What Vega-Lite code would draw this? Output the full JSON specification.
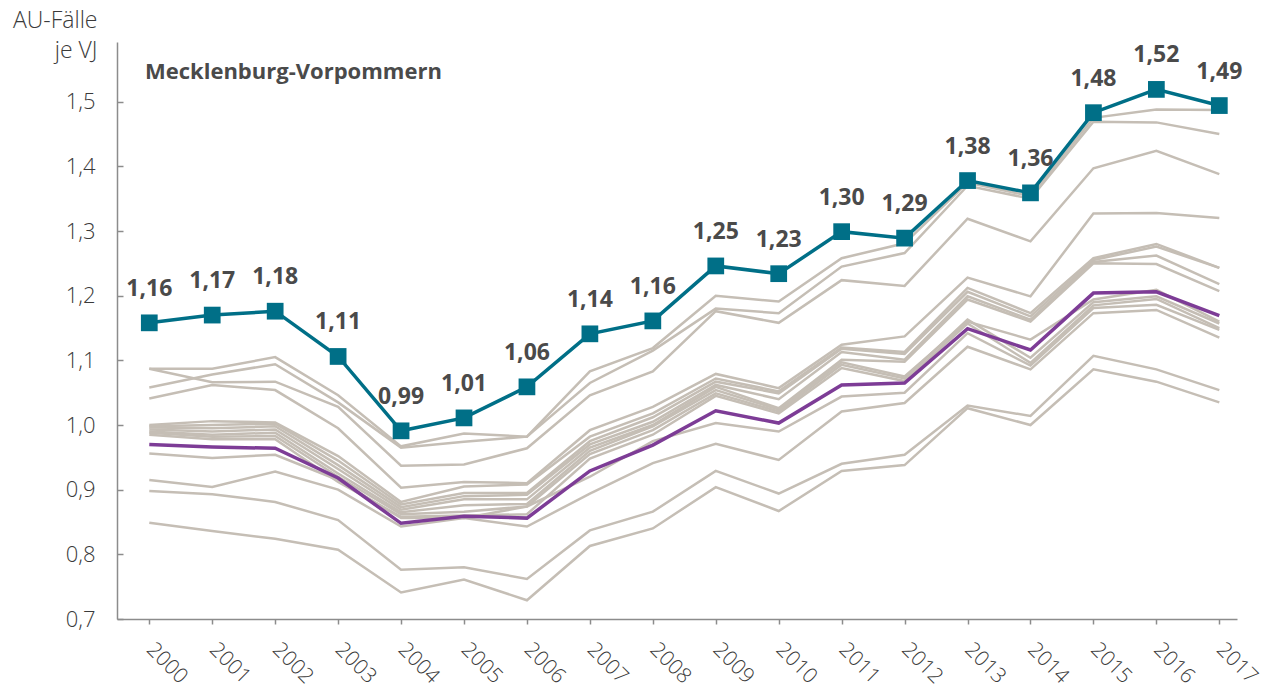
{
"$schema": "https://vega.github.io/schema/vega-lite/v6.json",
"width": 1120, "height": 577,
"autosize": {"type": "none"},
"padding": {"left": 117, "top": 42, "right": 34, "bottom": 75},
"config": {"view": {"stroke": null}, "font": "Open Sans",
  "locale": {"number": {"decimal": ",", "thousands": ".", "grouping": [3], "currency": ["", " €"]}}},
"title": {"text": "Mecklenburg-Vorpommern", "anchor": "start", "frame": "group", "fontSize": 22, "fontWeight": "bold", "color": "#4a4a4a", "font": "Open Sans", "offset": 0, "dx": 28, "dy": 92, "baseline": "alphabetic"},
"datasets": {"d": [
{"region":"Mecklenburg-Vorpommern","year":2000,"value":1.158},{"region":"Mecklenburg-Vorpommern","year":2001,"value":1.170},{"region":"Mecklenburg-Vorpommern","year":2002,"value":1.176},{"region":"Mecklenburg-Vorpommern","year":2003,"value":1.106},{"region":"Mecklenburg-Vorpommern","year":2004,"value":0.991},{"region":"Mecklenburg-Vorpommern","year":2005,"value":1.011},{"region":"Mecklenburg-Vorpommern","year":2006,"value":1.059},{"region":"Mecklenburg-Vorpommern","year":2007,"value":1.141},{"region":"Mecklenburg-Vorpommern","year":2008,"value":1.161},{"region":"Mecklenburg-Vorpommern","year":2009,"value":1.246},{"region":"Mecklenburg-Vorpommern","year":2010,"value":1.234},{"region":"Mecklenburg-Vorpommern","year":2011,"value":1.299},{"region":"Mecklenburg-Vorpommern","year":2012,"value":1.289},{"region":"Mecklenburg-Vorpommern","year":2013,"value":1.378},{"region":"Mecklenburg-Vorpommern","year":2014,"value":1.359},{"region":"Mecklenburg-Vorpommern","year":2015,"value":1.483},{"region":"Mecklenburg-Vorpommern","year":2016,"value":1.519},{"region":"Mecklenburg-Vorpommern","year":2017,"value":1.494},
{"region":"Bund","year":2000,"value":0.970},{"region":"Bund","year":2001,"value":0.966},{"region":"Bund","year":2002,"value":0.964},{"region":"Bund","year":2003,"value":0.918},{"region":"Bund","year":2004,"value":0.848},{"region":"Bund","year":2005,"value":0.859},{"region":"Bund","year":2006,"value":0.856},{"region":"Bund","year":2007,"value":0.929},{"region":"Bund","year":2008,"value":0.969},{"region":"Bund","year":2009,"value":1.022},{"region":"Bund","year":2010,"value":1.003},{"region":"Bund","year":2011,"value":1.062},{"region":"Bund","year":2012,"value":1.065},{"region":"Bund","year":2013,"value":1.149},{"region":"Bund","year":2014,"value":1.116},{"region":"Bund","year":2015,"value":1.204},{"region":"Bund","year":2016,"value":1.206},{"region":"Bund","year":2017,"value":1.169},
{"region":"Brandenburg","year":2000,"value":1.087},{"region":"Brandenburg","year":2001,"value":1.087},{"region":"Brandenburg","year":2002,"value":1.105},{"region":"Brandenburg","year":2003,"value":1.046},{"region":"Brandenburg","year":2004,"value":0.967},{"region":"Brandenburg","year":2005,"value":0.987},{"region":"Brandenburg","year":2006,"value":0.982},{"region":"Brandenburg","year":2007,"value":1.083},{"region":"Brandenburg","year":2008,"value":1.119},{"region":"Brandenburg","year":2009,"value":1.200},{"region":"Brandenburg","year":2010,"value":1.191},{"region":"Brandenburg","year":2011,"value":1.258},{"region":"Brandenburg","year":2012,"value":1.281},{"region":"Brandenburg","year":2013,"value":1.375},{"region":"Brandenburg","year":2014,"value":1.354},{"region":"Brandenburg","year":2015,"value":1.475},{"region":"Brandenburg","year":2016,"value":1.488},{"region":"Brandenburg","year":2017,"value":1.487},
{"region":"Sachsen-Anhalt","year":2000,"value":1.058},{"region":"Sachsen-Anhalt","year":2001,"value":1.078},{"region":"Sachsen-Anhalt","year":2002,"value":1.094},{"region":"Sachsen-Anhalt","year":2003,"value":1.035},{"region":"Sachsen-Anhalt","year":2004,"value":0.965},{"region":"Sachsen-Anhalt","year":2005,"value":0.974},{"region":"Sachsen-Anhalt","year":2006,"value":0.982},{"region":"Sachsen-Anhalt","year":2007,"value":1.065},{"region":"Sachsen-Anhalt","year":2008,"value":1.115},{"region":"Sachsen-Anhalt","year":2009,"value":1.180},{"region":"Sachsen-Anhalt","year":2010,"value":1.173},{"region":"Sachsen-Anhalt","year":2011,"value":1.245},{"region":"Sachsen-Anhalt","year":2012,"value":1.266},{"region":"Sachsen-Anhalt","year":2013,"value":1.370},{"region":"Sachsen-Anhalt","year":2014,"value":1.350},{"region":"Sachsen-Anhalt","year":2015,"value":1.469},{"region":"Sachsen-Anhalt","year":2016,"value":1.468},{"region":"Sachsen-Anhalt","year":2017,"value":1.450},
{"region":"Thüringen","year":2000,"value":1.087},{"region":"Thüringen","year":2001,"value":1.066},{"region":"Thüringen","year":2002,"value":1.067},{"region":"Thüringen","year":2003,"value":1.028},{"region":"Thüringen","year":2004,"value":0.937},{"region":"Thüringen","year":2005,"value":0.939},{"region":"Thüringen","year":2006,"value":0.964},{"region":"Thüringen","year":2007,"value":1.046},{"region":"Thüringen","year":2008,"value":1.083},{"region":"Thüringen","year":2009,"value":1.176},{"region":"Thüringen","year":2010,"value":1.158},{"region":"Thüringen","year":2011,"value":1.224},{"region":"Thüringen","year":2012,"value":1.215},{"region":"Thüringen","year":2013,"value":1.319},{"region":"Thüringen","year":2014,"value":1.284},{"region":"Thüringen","year":2015,"value":1.397},{"region":"Thüringen","year":2016,"value":1.424},{"region":"Thüringen","year":2017,"value":1.388},
{"region":"Sachsen","year":2000,"value":1.041},{"region":"Sachsen","year":2001,"value":1.062},{"region":"Sachsen","year":2002,"value":1.054},{"region":"Sachsen","year":2003,"value":0.995},{"region":"Sachsen","year":2004,"value":0.903},{"region":"Sachsen","year":2005,"value":0.912},{"region":"Sachsen","year":2006,"value":0.910},{"region":"Sachsen","year":2007,"value":0.992},{"region":"Sachsen","year":2008,"value":1.028},{"region":"Sachsen","year":2009,"value":1.079},{"region":"Sachsen","year":2010,"value":1.057},{"region":"Sachsen","year":2011,"value":1.124},{"region":"Sachsen","year":2012,"value":1.137},{"region":"Sachsen","year":2013,"value":1.228},{"region":"Sachsen","year":2014,"value":1.199},{"region":"Sachsen","year":2015,"value":1.327},{"region":"Sachsen","year":2016,"value":1.328},{"region":"Sachsen","year":2017,"value":1.320},
{"region":"Berlin","year":2000,"value":1.000},{"region":"Berlin","year":2001,"value":1.006},{"region":"Berlin","year":2002,"value":1.004},{"region":"Berlin","year":2003,"value":0.952},{"region":"Berlin","year":2004,"value":0.881},{"region":"Berlin","year":2005,"value":0.905},{"region":"Berlin","year":2006,"value":0.908},{"region":"Berlin","year":2007,"value":0.982},{"region":"Berlin","year":2008,"value":1.018},{"region":"Berlin","year":2009,"value":1.072},{"region":"Berlin","year":2010,"value":1.052},{"region":"Berlin","year":2011,"value":1.120},{"region":"Berlin","year":2012,"value":1.113},{"region":"Berlin","year":2013,"value":1.212},{"region":"Berlin","year":2014,"value":1.173},{"region":"Berlin","year":2015,"value":1.258},{"region":"Berlin","year":2016,"value":1.280},{"region":"Berlin","year":2017,"value":1.243},
{"region":"Saarland","year":2000,"value":0.998},{"region":"Saarland","year":2001,"value":1.000},{"region":"Saarland","year":2002,"value":1.002},{"region":"Saarland","year":2003,"value":0.945},{"region":"Saarland","year":2004,"value":0.877},{"region":"Saarland","year":2005,"value":0.895},{"region":"Saarland","year":2006,"value":0.895},{"region":"Saarland","year":2007,"value":0.975},{"region":"Saarland","year":2008,"value":1.012},{"region":"Saarland","year":2009,"value":1.067},{"region":"Saarland","year":2010,"value":1.049},{"region":"Saarland","year":2011,"value":1.118},{"region":"Saarland","year":2012,"value":1.110},{"region":"Saarland","year":2013,"value":1.206},{"region":"Saarland","year":2014,"value":1.168},{"region":"Saarland","year":2015,"value":1.255},{"region":"Saarland","year":2016,"value":1.276},{"region":"Saarland","year":2017,"value":1.243},
{"region":"Niedersachsen","year":2000,"value":0.996},{"region":"Niedersachsen","year":2001,"value":0.995},{"region":"Niedersachsen","year":2002,"value":0.998},{"region":"Niedersachsen","year":2003,"value":0.938},{"region":"Niedersachsen","year":2004,"value":0.873},{"region":"Niedersachsen","year":2005,"value":0.890},{"region":"Niedersachsen","year":2006,"value":0.892},{"region":"Niedersachsen","year":2007,"value":0.970},{"region":"Niedersachsen","year":2008,"value":1.005},{"region":"Niedersachsen","year":2009,"value":1.062},{"region":"Niedersachsen","year":2010,"value":1.040},{"region":"Niedersachsen","year":2011,"value":1.113},{"region":"Niedersachsen","year":2012,"value":1.101},{"region":"Niedersachsen","year":2013,"value":1.199},{"region":"Niedersachsen","year":2014,"value":1.163},{"region":"Niedersachsen","year":2015,"value":1.252},{"region":"Niedersachsen","year":2016,"value":1.262},{"region":"Niedersachsen","year":2017,"value":1.218},
{"region":"Schleswig-Holstein","year":2000,"value":0.993},{"region":"Schleswig-Holstein","year":2001,"value":0.990},{"region":"Schleswig-Holstein","year":2002,"value":0.993},{"region":"Schleswig-Holstein","year":2003,"value":0.932},{"region":"Schleswig-Holstein","year":2004,"value":0.869},{"region":"Schleswig-Holstein","year":2005,"value":0.885},{"region":"Schleswig-Holstein","year":2006,"value":0.885},{"region":"Schleswig-Holstein","year":2007,"value":0.965},{"region":"Schleswig-Holstein","year":2008,"value":1.000},{"region":"Schleswig-Holstein","year":2009,"value":1.059},{"region":"Schleswig-Holstein","year":2010,"value":1.026},{"region":"Schleswig-Holstein","year":2011,"value":1.101},{"region":"Schleswig-Holstein","year":2012,"value":1.098},{"region":"Schleswig-Holstein","year":2013,"value":1.194},{"region":"Schleswig-Holstein","year":2014,"value":1.160},{"region":"Schleswig-Holstein","year":2015,"value":1.250},{"region":"Schleswig-Holstein","year":2016,"value":1.249},{"region":"Schleswig-Holstein","year":2017,"value":1.207},
{"region":"Nordrhein-Westfalen","year":2000,"value":0.990},{"region":"Nordrhein-Westfalen","year":2001,"value":0.985},{"region":"Nordrhein-Westfalen","year":2002,"value":0.988},{"region":"Nordrhein-Westfalen","year":2003,"value":0.925},{"region":"Nordrhein-Westfalen","year":2004,"value":0.865},{"region":"Nordrhein-Westfalen","year":2005,"value":0.876},{"region":"Nordrhein-Westfalen","year":2006,"value":0.878},{"region":"Nordrhein-Westfalen","year":2007,"value":0.960},{"region":"Nordrhein-Westfalen","year":2008,"value":0.998},{"region":"Nordrhein-Westfalen","year":2009,"value":1.054},{"region":"Nordrhein-Westfalen","year":2010,"value":1.024},{"region":"Nordrhein-Westfalen","year":2011,"value":1.097},{"region":"Nordrhein-Westfalen","year":2012,"value":1.075},{"region":"Nordrhein-Westfalen","year":2013,"value":1.160},{"region":"Nordrhein-Westfalen","year":2014,"value":1.132},{"region":"Nordrhein-Westfalen","year":2015,"value":1.194},{"region":"Nordrhein-Westfalen","year":2016,"value":1.209},{"region":"Nordrhein-Westfalen","year":2017,"value":1.160},
{"region":"Bremen","year":2000,"value":0.988},{"region":"Bremen","year":2001,"value":0.982},{"region":"Bremen","year":2002,"value":0.983},{"region":"Bremen","year":2003,"value":0.920},{"region":"Bremen","year":2004,"value":0.862},{"region":"Bremen","year":2005,"value":0.866},{"region":"Bremen","year":2006,"value":0.874},{"region":"Bremen","year":2007,"value":0.955},{"region":"Bremen","year":2008,"value":0.992},{"region":"Bremen","year":2009,"value":1.049},{"region":"Bremen","year":2010,"value":1.021},{"region":"Bremen","year":2011,"value":1.093},{"region":"Bremen","year":2012,"value":1.072},{"region":"Bremen","year":2013,"value":1.163},{"region":"Bremen","year":2014,"value":1.104},{"region":"Bremen","year":2015,"value":1.190},{"region":"Bremen","year":2016,"value":1.199},{"region":"Bremen","year":2017,"value":1.157},
{"region":"Rheinland-Pfalz","year":2000,"value":0.985},{"region":"Rheinland-Pfalz","year":2001,"value":0.978},{"region":"Rheinland-Pfalz","year":2002,"value":0.978},{"region":"Rheinland-Pfalz","year":2003,"value":0.912},{"region":"Rheinland-Pfalz","year":2004,"value":0.858},{"region":"Rheinland-Pfalz","year":2005,"value":0.860},{"region":"Rheinland-Pfalz","year":2006,"value":0.862},{"region":"Rheinland-Pfalz","year":2007,"value":0.948},{"region":"Rheinland-Pfalz","year":2008,"value":0.985},{"region":"Rheinland-Pfalz","year":2009,"value":1.045},{"region":"Rheinland-Pfalz","year":2010,"value":1.018},{"region":"Rheinland-Pfalz","year":2011,"value":1.088},{"region":"Rheinland-Pfalz","year":2012,"value":1.068},{"region":"Rheinland-Pfalz","year":2013,"value":1.157},{"region":"Rheinland-Pfalz","year":2014,"value":1.096},{"region":"Rheinland-Pfalz","year":2015,"value":1.185},{"region":"Rheinland-Pfalz","year":2016,"value":1.195},{"region":"Rheinland-Pfalz","year":2017,"value":1.150},
{"region":"Hessen","year":2000,"value":0.956},{"region":"Hessen","year":2001,"value":0.949},{"region":"Hessen","year":2002,"value":0.954},{"region":"Hessen","year":2003,"value":0.915},{"region":"Hessen","year":2004,"value":0.856},{"region":"Hessen","year":2005,"value":0.856},{"region":"Hessen","year":2006,"value":0.874},{"region":"Hessen","year":2007,"value":0.920},{"region":"Hessen","year":2008,"value":0.975},{"region":"Hessen","year":2009,"value":1.003},{"region":"Hessen","year":2010,"value":0.990},{"region":"Hessen","year":2011,"value":1.044},{"region":"Hessen","year":2012,"value":1.050},{"region":"Hessen","year":2013,"value":1.142},{"region":"Hessen","year":2014,"value":1.092},{"region":"Hessen","year":2015,"value":1.181},{"region":"Hessen","year":2016,"value":1.186},{"region":"Hessen","year":2017,"value":1.147},
{"region":"Hamburg","year":2000,"value":0.915},{"region":"Hamburg","year":2001,"value":0.904},{"region":"Hamburg","year":2002,"value":0.928},{"region":"Hamburg","year":2003,"value":0.900},{"region":"Hamburg","year":2004,"value":0.843},{"region":"Hamburg","year":2005,"value":0.856},{"region":"Hamburg","year":2006,"value":0.843},{"region":"Hamburg","year":2007,"value":0.894},{"region":"Hamburg","year":2008,"value":0.941},{"region":"Hamburg","year":2009,"value":0.971},{"region":"Hamburg","year":2010,"value":0.946},{"region":"Hamburg","year":2011,"value":1.021},{"region":"Hamburg","year":2012,"value":1.034},{"region":"Hamburg","year":2013,"value":1.121},{"region":"Hamburg","year":2014,"value":1.086},{"region":"Hamburg","year":2015,"value":1.173},{"region":"Hamburg","year":2016,"value":1.178},{"region":"Hamburg","year":2017,"value":1.135},
{"region":"Bayern","year":2000,"value":0.898},{"region":"Bayern","year":2001,"value":0.893},{"region":"Bayern","year":2002,"value":0.881},{"region":"Bayern","year":2003,"value":0.853},{"region":"Bayern","year":2004,"value":0.776},{"region":"Bayern","year":2005,"value":0.780},{"region":"Bayern","year":2006,"value":0.762},{"region":"Bayern","year":2007,"value":0.837},{"region":"Bayern","year":2008,"value":0.866},{"region":"Bayern","year":2009,"value":0.929},{"region":"Bayern","year":2010,"value":0.894},{"region":"Bayern","year":2011,"value":0.940},{"region":"Bayern","year":2012,"value":0.954},{"region":"Bayern","year":2013,"value":1.030},{"region":"Bayern","year":2014,"value":1.014},{"region":"Bayern","year":2015,"value":1.107},{"region":"Bayern","year":2016,"value":1.086},{"region":"Bayern","year":2017,"value":1.054},
{"region":"Baden-Württemberg","year":2000,"value":0.849},{"region":"Baden-Württemberg","year":2001,"value":0.836},{"region":"Baden-Württemberg","year":2002,"value":0.824},{"region":"Baden-Württemberg","year":2003,"value":0.807},{"region":"Baden-Württemberg","year":2004,"value":0.741},{"region":"Baden-Württemberg","year":2005,"value":0.761},{"region":"Baden-Württemberg","year":2006,"value":0.729},{"region":"Baden-Württemberg","year":2007,"value":0.813},{"region":"Baden-Württemberg","year":2008,"value":0.840},{"region":"Baden-Württemberg","year":2009,"value":0.904},{"region":"Baden-Württemberg","year":2010,"value":0.867},{"region":"Baden-Württemberg","year":2011,"value":0.929},{"region":"Baden-Württemberg","year":2012,"value":0.938},{"region":"Baden-Württemberg","year":2013,"value":1.026},{"region":"Baden-Württemberg","year":2014,"value":1.000},{"region":"Baden-Württemberg","year":2015,"value":1.086},{"region":"Baden-Württemberg","year":2016,"value":1.067},{"region":"Baden-Württemberg","year":2017,"value":1.035}
]},
"data": {"name": "d"},
"encoding": {
  "x": {"field": "year", "type": "quantitative", "scale": {"domain": [1999.487, 2017.281], "nice": false, "zero": false},
    "axis": {"values": [2000,2001,2002,2003,2004,2005,2006,2007,2008,2009,2010,2011,2012,2013,2014,2015,2016,2017], "format": "d", "grid": false, "domainColor": "#8c8c8c", "domainWidth": 1.5, "tickColor": "#8c8c8c", "tickWidth": 1.5, "tickSize": 5, "labelAngle": 45, "labelAlign": "left", "labelBaseline": "middle", "labelPadding": 22, "labelFontSize": 21, "labelFont": "Open Sans", "labelFontWeight": 300, "labelColor": "#3a3a3a", "labelFlush": false, "labelOverlap": false, "title": null}},
  "y": {"field": "value", "type": "quantitative", "scale": {"domain": [0.7, 1.5923], "nice": false, "zero": false},
    "axis": {"values": [0.7,0.8,0.9,1.0,1.1,1.2,1.3,1.4,1.5], "format": ".1f", "grid": false, "domainColor": "#8c8c8c", "domainWidth": 1.5, "tickColor": "#8c8c8c", "tickWidth": 1.5, "tickSize": -6, "labelPadding": 28, "labelFontSize": 22, "labelFont": "Open Sans", "labelFontWeight": 300, "labelColor": "#3a3a3a", "labelOverlap": false,
      "title": ["AU-Fälle", "je VJ"], "titleAngle": 0, "titleAlign": "right", "titleBaseline": "alphabetic", "titleX": -20, "titleY": -15, "titleFontSize": 23, "titleFontWeight": 300, "titleColor": "#3a3a3a", "titleFont": "Open Sans", "titleLineHeight": 30}}
},
"layer": [
  {"transform": [{"filter": "datum.region !== 'Mecklenburg-Vorpommern' && datum.region !== 'Bund'"}],
   "mark": {"type": "line", "color": "#c5beb5", "strokeWidth": 2.5}, "encoding": {"detail": {"field": "region"}}},
  {"transform": [{"filter": "datum.region === 'Bund'"}],
   "mark": {"type": "line", "color": "#7d3c96", "strokeWidth": 3.5}, "encoding": {}},
  {"transform": [{"filter": "datum.region === 'Mecklenburg-Vorpommern'"}],
   "mark": {"type": "line", "color": "#006f87", "strokeWidth": 3.5}, "encoding": {}},
  {"transform": [{"filter": "datum.region === 'Mecklenburg-Vorpommern'"}],
   "mark": {"type": "point", "shape": "square", "filled": true, "size": 280, "color": "#006f87", "opacity": 1}, "encoding": {}},
  {"transform": [{"filter": "datum.region === 'Mecklenburg-Vorpommern'"}],
   "mark": {"type": "text", "fontSize": 23, "fontWeight": "bold", "color": "#4a4a4a", "font": "Open Sans", "dy": -27, "baseline": "alphabetic", "align": "center"},
   "encoding": {"text": {"field": "value", "type": "quantitative", "format": ".2f"}}}
]
}
